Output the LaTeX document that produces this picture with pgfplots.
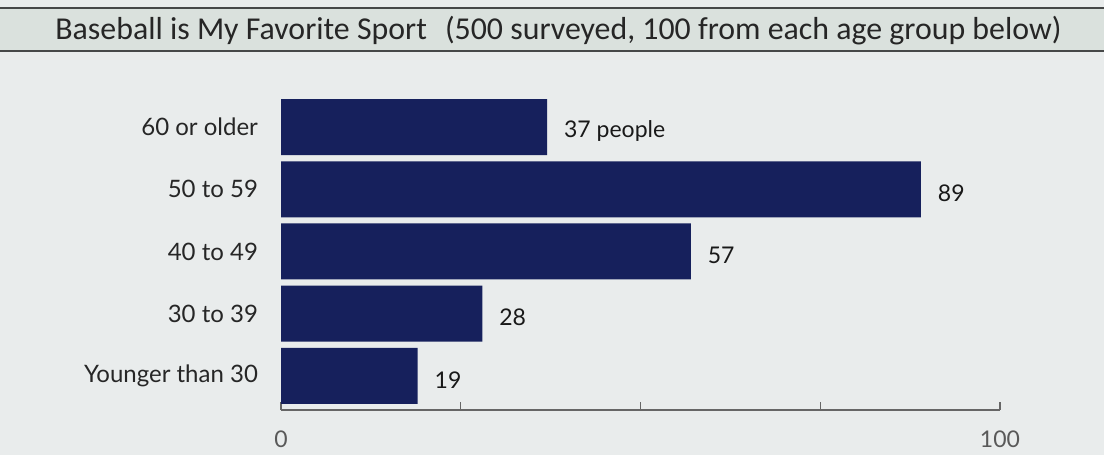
\documentclass[border=0pt]{standalone}
\usepackage{pgfplots}
\pgfplotsset{compat=1.18}
\usepackage{pgfplotstable}
\usepackage{fontspec}
\setmainfont{Lato}
\newfontfamily\titlefont{Carlito}
\definecolor{barcol}{RGB}{22,32,92}
\definecolor{bgcol}{RGB}{233,236,236}
\definecolor{bandcol}{RGB}{218,225,221}
\definecolor{linecol}{RGB}{70,72,72}
\pgfplotstableread[col sep=comma]{
y,v,lab
0,19,19
1,28,28
2,57,57
3,89,89
4,37,37 people
}\datatab
\begin{document}
\begin{tikzpicture}[x=1pt,y=1pt]
\useasboundingbox (0,0) rectangle (552,227.5);
\fill[bgcol] (0,0) rectangle (552,227.5);
\fill[bandcol] (0,223.5) rectangle (552,202);
\draw[linecol, line width=1.2pt] (0,223.5) -- (552,223.5);
\draw[linecol, line width=1.2pt] (0,202) -- (552,202);
\node[anchor=base west, inner sep=0pt, text=black!85, font=\titlefont\fontsize{17.5}{20}\selectfont] at (27.5,207.5) {\resizebox{503pt}{!}{Baseball is My Favorite Sport\hspace{6pt} (500 surveyed, 100 from each age group below)}};
\begin{axis}[
  at={(140.5pt,22.5pt)}, anchor=south west,
  scale only axis, width=359.5pt, height=157pt,
  xmin=0, xmax=100, ymin=-0.55, ymax=4.5,
  xbar, bar width=28pt,
  axis x line*=bottom, axis y line=none,
  x axis line style={draw=gray!80!black, line width=0.6pt, -},
  xtick={0,25,50,75,100}, xticklabels={0,,,,100},
  tick align=inside, major tick length=4pt,
  tick style={gray!80!black, line width=0.6pt},
  xticklabel style={text=gray!70!black, font=\fontsize{11.5}{13}\selectfont, yshift=-7pt},
  /pgf/number format/assume math mode=true,
  point meta=explicit symbolic,
  nodes near coords,
  nodes near coords style={anchor=west, xshift=5pt, yshift=-2pt, font=\fontsize{11.5}{13}\selectfont, text=black!90},
  clip=false,
]
\addplot[fill=barcol, draw=none] table[x=v, y=y, meta=lab] {\datatab};
\end{axis}
\begin{axis}[
  at={(140.5pt,22.5pt)}, anchor=south west,
  scale only axis, width=359.5pt, height=157pt,
  xmin=0, xmax=100, ymin=-0.55, ymax=4.5,
  axis y line*=left, hide x axis,
  y axis line style={draw=none},
  ytick={0,1,2,3,4},
  yticklabels={Younger than 30,30 to 39,40 to 49,50 to 59,60 or older},
  major tick length=0pt,
  yticklabel style={font=\fontsize{12}{14}\selectfont, xshift=-8pt, text=black!85},
]
\addplot[draw=none] coordinates {(0,0)};
\end{axis}
\end{tikzpicture}
\end{document}
